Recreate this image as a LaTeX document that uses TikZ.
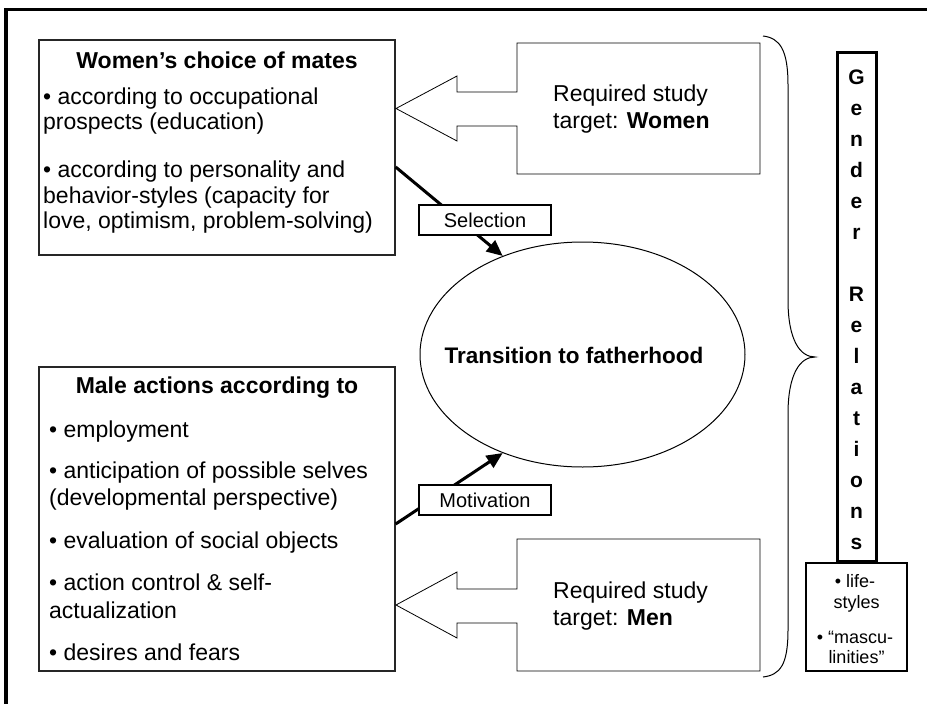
\documentclass[tikz,border=0pt]{standalone}
\usepackage{fontspec}
\setmainfont{Liberation Sans}
\usetikzlibrary{arrows.meta,shapes.geometric}
\begin{document}
\begin{tikzpicture}[x=1pt,y=-1pt,
  box/.style={draw=black!85, line width=1.3pt, inner sep=0pt},
  body/.style={font=\fontsize{23}{26}\selectfont, anchor=base west, inner sep=0pt},
  head/.style={font=\fontsize{23}{26}\selectfont\bfseries, anchor=base, inner sep=0pt},
  tag/.style={draw, fill=white, line width=1.2pt, font=\fontsize{20}{24}\selectfont,
    minimum width=132pt, minimum height=30pt, inner sep=0pt},
  link/.style={line width=3pt, -{Triangle[length=16pt,width=14pt]}},
  blockarrow/.style={draw, line width=0.8pt},
  letter/.style={font=\fontsize{21}{24}\selectfont\bfseries, anchor=base, inner sep=0pt},
  small/.style={font=\fontsize{18}{21}\selectfont, anchor=base, inner sep=0pt},
]
\useasboundingbox (0,0) rectangle (927,704);
\fill[white] (0,0) rectangle (927,704);

% frame
\draw[line width=3pt] (4,9.5) -- (927,9.5);
\draw[line width=3.5pt] (6,8) -- (6,704);

% women's box
\node[box, minimum width=356pt, minimum height=215pt] (wbox) at (217,147.5) {};
\node[head] (wtitle) at (217,68) {Women’s choice of mates};
\foreach \y/\t [count=\i] in {
  104/{• according to occupational},
  129.5/{prospects (education)},
  177.5/{• according to personality and},
  203/{behavior-styles (capacity for},
  228.5/{love, optimism, problem-solving)}}
  \node[body] (w\i) at (43,\y) {\t};

% men's box
\node[box, minimum width=356pt, minimum height=304pt] (mbox) at (217,519) {};
\node[head] (mtitle) at (217,393) {Male actions according to};
\foreach \y/\t [count=\i] in {
  437/{• employment},
  478/{• anticipation of possible selves},
  505/{(developmental perspective)},
  548/{• evaluation of social objects},
  590/{• action control \& self-},
  618/{actualization},
  660/{• desires and fears}}
  \node[body] (m\i) at (49,\y) {\t};

% study target callouts
\draw[blockarrow] (517,92) -- (457,92) -- (457,76) -- (396,108.5) -- (457,141)
  -- (457,126) -- (517,126) -- (517,174) -- (760,174) -- (760,43) -- (517,43) -- cycle;
\node[body] (rw1) at (553,101) {Required study};
\node[body] (rw2) at (553,128) {target: \textbf{Women}};

\draw[blockarrow] (517,589) -- (457,589) -- (457,572) -- (396,605) -- (457,638)
  -- (457,623) -- (517,623) -- (517,671) -- (760,671) -- (760,539) -- (517,539) -- cycle;
\node[body] (rm1) at (553,598) {Required study};
\node[body] (rm2) at (553,625) {target: \textbf{Men}};

% central ellipse
\node[ellipse, draw, line width=1pt, minimum width=325pt, minimum height=225pt, inner sep=0pt]
  (ell) at (582.5,354.5) {};
\node[font=\fontsize{22.5}{26}\selectfont\bfseries, anchor=base, inner sep=0pt]
  (trans) at (574,363) {Transition to fatherhood};

% influences
\draw[link] ([yshift=-19.5pt]wbox.east) -- (ell.129.5);
\draw[link] ([yshift=-5pt]mbox.east) -- (ell.231.6);
\node[tag] (sel) at (485,220) {Selection};
\node[tag] (mot) at (485,500) {Motivation};

% brace
\draw[line width=1pt] (763,36) .. controls (780,38) and (788,50) .. (788,85)
  -- (788,300) .. controls (788,340) and (800,357) .. (815,357)
  .. controls (800,357) and (788,374) .. (788,414)
  -- (788,630) .. controls (788,665) and (780,675) .. (763,677);

% gender relations column
\node[draw, line width=3pt, minimum width=39pt, minimum height=509pt, inner sep=0pt]
  (gbox) at (856.5,306.5) {};
\foreach \c [count=\i] in {G,e,n,d,e,r,{},R,e,l,a,t,i,o,n,s}
  \node[letter] (g\i) at (856.5,{84.5+31*(\i-1)}) {\c};

\node[draw, line width=2pt, minimum width=101pt, minimum height=108pt, inner sep=0pt]
  (lbox) at (856.5,617) {};
\node[small] (l1) at (855,587) {• life-};
\node[small] (l2) at (856.5,608) {styles};
\node[small] (l3) at (855,643) {• “mascu-};
\node[small] (l4) at (856.5,663) {linities”};
\end{tikzpicture}
\end{document}
